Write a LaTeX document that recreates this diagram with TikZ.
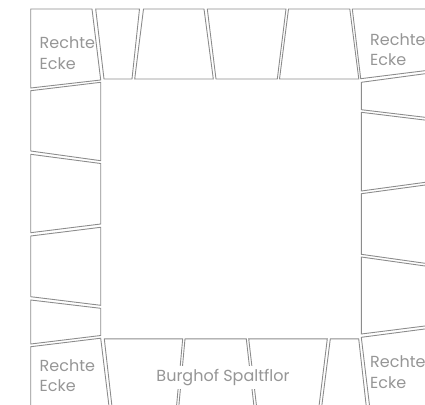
\documentclass[tikz,border=0pt]{standalone}
\usepackage{fontspec}
\setmainfont{Poppins}
\usepackage{xcolor}
\usepackage{tikz}
\definecolor{fuge}{RGB}{140,140,140}
\definecolor{beschrift}{RGB}{150,150,150}
\tikzset{stein/.style={draw=fuge,line width=0.9pt,line join=miter}}

\begin{document}
\begin{tikzpicture}[x=1pt,y=-1pt,every node/.style={font=\fontsize{16}{20.5}\selectfont,text=beschrift}]
    \useasboundingbox (0,0) rectangle (425,404);
    \clip (0,0) rectangle (425,404);

    % Top row
    \draw[stein] (30.7,9) -- (92,9) -- (100.7,80) -- (30.7,88) -- cycle;
    \draw[stein] (95.7,9) -- (139.5,9) -- (132,79) -- (104,79) -- cycle;
    \draw[stein] (143.5,9) -- (204,9) -- (213.3,79) -- (134.7,79) -- cycle;
    \draw[stein] (207.3,9) -- (286,9) -- (277.3,79) -- (216,79) -- cycle;
    \draw[stein] (288.5,9) -- (349.8,9) -- (358.8,79) -- (279.5,79) -- cycle;
    \draw[stein] (352.3,9) -- (440,9) -- (440,68.8) -- (360.7,78.7) -- cycle;

    % Left column
    \draw[stein] (30.7,90.7) -- (100.7,82.3) -- (100.7,160.7) -- (30.7,151) -- cycle;
    \draw[stein] (30.7,154.3) -- (100.7,163.5) -- (100.7,224) -- (30.7,232.7) -- cycle;
    \draw[stein] (30.7,236) -- (100.7,227.3) -- (100.7,305.3) -- (30.7,296.7) -- cycle;
    \draw[stein] (30.7,300) -- (100.7,308.3) -- (100.7,335.5) -- (30.7,344) -- cycle;

    % Right column
    \draw[stein] (361.3,82.3) -- (440,71.7) -- (440,119.1) -- (361.3,109.7) -- cycle;
    \draw[stein] (361.3,112.3) -- (440,121.9) -- (440,180.3) -- (361.3,191) -- cycle;
    \draw[stein] (361.3,193.7) -- (440,183) -- (440,265.4) -- (361.3,254.3) -- cycle;
    \draw[stein] (361.3,257) -- (440,268.1) -- (440,324.1) -- (361.3,334) -- cycle;

    % Bottom row
    \draw[stein] (30.7,346.7) -- (100.7,338.2) -- (109.7,412) -- (30.7,412) -- cycle;
    \draw[stein] (104.3,338.8) -- (182.7,338.8) -- (176,412) -- (112.6,412) -- cycle;
    \draw[stein] (185,338.8) -- (246.3,338.8) -- (254.6,412) -- (178.3,412) -- cycle;
    \draw[stein] (248.7,338.8) -- (327.3,338.8) -- (318.3,412) -- (257.2,412) -- cycle;
    \draw[stein] (330.3,338.8) -- (358.7,338.8) -- (366.9,412) -- (321,412) -- cycle;
    \draw[stein] (361.3,337.3) -- (440,327) -- (440,412) -- (370.3,412) -- cycle;

    % Labels (base = last line)
    \node[anchor=base west,align=left,inner sep=0] (eckeOL) at (39.5,69) {Rechte\\Ecke};
    \node[anchor=base west,align=left,inner sep=0] (eckeOR) at (370,66) {Rechte\\Ecke};
    \node[anchor=base west,align=left,inner sep=0] (eckeUL) at (39.5,391.5) {Rechte\\Ecke};
    \node[anchor=base west,align=left,inner sep=0] (eckeUR) at (370,388) {Rechte\\Ecke};
    \node[anchor=base,fill=white,inner sep=3pt] (spaltflor) at (223,381.7) {Burghof Spaltflor};
\end{tikzpicture}
\end{document}
